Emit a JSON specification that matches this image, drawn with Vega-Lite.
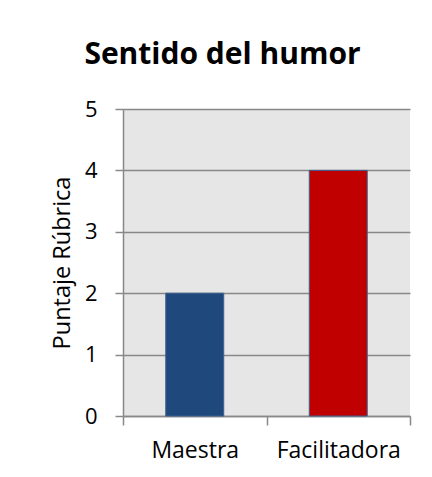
{
  "$schema": "https://vega.github.io/schema/vega-lite/v6.json",
  "autosize": {"type": "none"},
  "padding": {"left": 123, "top": 109, "right": 22, "bottom": 61},
  "width": 287,
  "height": 307,
  "background": "white",
  "title": {
    "text": "Sentido del humor",
    "font": "Open Sans",
    "fontSize": 30,
    "fontWeight": "bold",
    "color": "black",
    "anchor": "middle",
    "dx": -44,
    "offset": 28
  },
  "data": {
    "values": [
      {"categoria": "Maestra", "puntaje": 2},
      {"categoria": "Facilitadora", "puntaje": 4}
    ]
  },
  "mark": {"type": "bar", "width": {"band": 0.404}, "stroke": "#3f5f8f", "strokeWidth": 1},
  "encoding": {
    "x": {
      "field": "categoria",
      "type": "nominal",
      "sort": ["Maestra", "Facilitadora"],
      "scale": {"paddingInner": 0, "paddingOuter": 0},
      "axis": {
        "title": null,
        "labelAngle": 0,
        "tickBand": "extent",
        "tickSize": 9,
        "tickColor": "#888888",
        "tickWidth": 1.5,
        "domainColor": "#888888",
        "domainWidth": 1.5,
        "labelFont": "Open Sans",
        "labelFontSize": 23,
        "labelColor": "black",
        "labelPadding": 14
      }
    },
    "y": {
      "field": "puntaje",
      "type": "quantitative",
      "scale": {"domain": [0, 5]},
      "axis": {
        "title": "Puntaje Rúbrica",
        "titleFont": "Open Sans",
        "titleFontSize": 23.5,
        "titleFontWeight": "normal",
        "titleColor": "black",
        "titlePadding": 10,
        "values": [0, 1, 2, 3, 4, 5],
        "tickSize": 8,
        "tickColor": "#888888",
        "tickWidth": 1.5,
        "domainColor": "#888888",
        "domainWidth": 1.5,
        "gridColor": "#888888",
        "gridWidth": 1.5,
        "labelFont": "Open Sans",
        "labelFontSize": 22,
        "labelColor": "black",
        "labelPadding": 18
      }
    },
    "color": {
      "field": "categoria",
      "type": "nominal",
      "scale": {"domain": ["Maestra", "Facilitadora"], "range": ["#1f497d", "#c00000"]},
      "legend": null
    }
  },
  "config": {
    "view": {"fill": "#e6e6e6", "stroke": null}
  }
}
